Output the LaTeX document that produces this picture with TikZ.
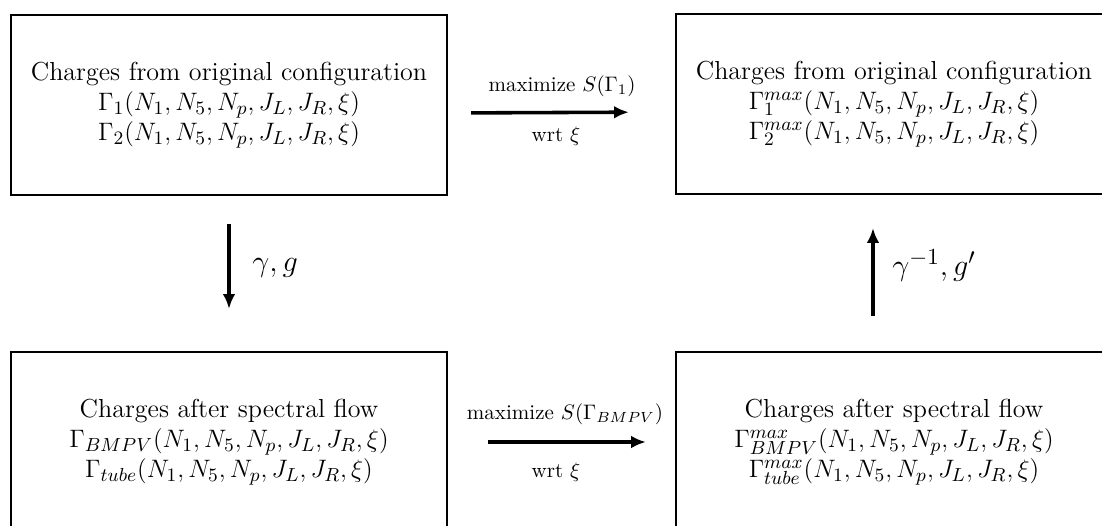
\documentclass[tikz,border=0pt]{standalone}
\usetikzlibrary{arrows.meta}
\begin{document}
\begin{tikzpicture}[x=0.476pt,y=-0.476pt,
  chargebox/.style={draw=black, line width=1.1pt, rectangle, minimum width=207.5pt, minimum height=85.7pt, align=center, font=\fontsize{12.4}{14.2}\selectfont, inner sep=0pt},
  arr/.style={line width=1.7pt, -{Latex[length=7pt,width=6pt]}},
  smalllabel/.style={font=\normalsize, inner sep=0pt},
  biglabel/.style={font=\fontsize{15.5}{18}\selectfont, inner sep=0pt}]
\useasboundingbox (0,0) rectangle (1102,525);
\clip (0,0) rectangle (1102,525);
\node[chargebox] (tl) at (229,105) {Charges from original configuration\\
  $\Gamma_1(N_1,N_5,N_p,J_L,J_R,\xi)$\\
  $\Gamma_2(N_1,N_5,N_p,J_L,J_R,\xi)$};
\node[chargebox] (tr) at (894,104) {Charges from original configuration\\
  $\Gamma_1^{max}(N_1,N_5,N_p,J_L,J_R,\xi)$\\
  $\Gamma_2^{max}(N_1,N_5,N_p,J_L,J_R,\xi)$};
\node[chargebox] (bl) at (229,442) {Charges after spectral flow\\
  $\Gamma_{BMPV}(N_1,N_5,N_p,J_L,J_R,\xi)$\\
  $\Gamma_{tube}(N_1,N_5,N_p,J_L,J_R,\xi)$};
\node[chargebox] (br) at (894,442) {Charges after spectral flow\\
  $\Gamma_{BMPV}^{max}(N_1,N_5,N_p,J_L,J_R,\xi)$\\
  $\Gamma_{tube}^{max}(N_1,N_5,N_p,J_L,J_R,\xi)$};
% horizontal arrows
\draw[arr, shorten <=10.9pt, shorten >=21.9pt] ([yshift=-3.8pt]tl.east) -- ([yshift=-3.8pt]tr.west);
\draw[arr, shorten <=19pt, shorten >=13.8pt] (bl.east) -- (br.west);
% vertical arrows
\draw[arr, shorten <=13.3pt, shorten >=20pt] (tl.south) -- (bl.north);
\draw[arr, shorten <=16.7pt, shorten >=15.7pt] ([xshift=-10pt]br.north) -- ([xshift=-10pt]tr.south);
% labels
\node[smalllabel] (l1) at (562,86) {maximize $S(\Gamma_1)$};
\node[smalllabel] (l2) at (556,136) {wrt $\xi$};
\node[smalllabel] (l3) at (565,414) {maximize $S(\Gamma_{BMPV})$};
\node[smalllabel] (l4) at (556,472) {wrt $\xi$};
\node[biglabel, anchor=west] (l5) at (252,268) {$\gamma, g$};
\node[biglabel, anchor=west] (l6) at (892,266) {$\gamma^{-1}, g'$};
\end{tikzpicture}
\end{document}
